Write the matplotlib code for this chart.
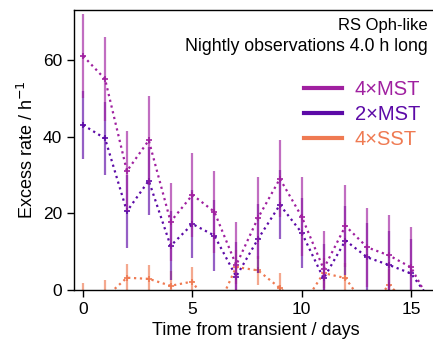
import matplotlib
matplotlib.use('Agg')
import matplotlib.pyplot as plt
from matplotlib.lines import Line2D
import numpy as np

plt.rc('font', family=['Liberation Sans', 'DejaVu Sans'], size=12)

# nights after the transient
days = np.arange(0, 17)

# excess rate per night and 1-sigma errors
mst4 = [61, 55, 31, 39, 17.8, 24.8, 20.4, 6.5, 18.8, 29, 19.1, 5.5, 16.7, 11.1, 9.0, 5.9, -4.5]
mst4_err = [11, 11, 10.5, 11.5, 10.2, 10.9, 10.7, 11.3, 10.6, 10, 10.3, 10, 10.7, 10.4, 10.6, 10.5, 10.5]
mst2 = [43, 39.5, 20.5, 28.5, 11.5, 17.2, 14.2, 3.5, 13.3, 22.2, 14.9, 3, 12.9, 8.5, 6.5, 4.3, -3.5]
mst2_err = [8.8, 9.6, 9.5, 8.9, 9, 8.9, 9.2, 9, 9, 9, 9.2, 9, 9, 9, 9, 9, 9]
sst4 = [-3, -2, 3.2, 2.9, 1.1, 2.2, -6.6, 6.0, 5.1, 0.5, -4.4, 4.4, 3.1, -5, 1.3, -4.5, -4]
sst4_err = [4.7, 4.5, 3.6, 3.6, 3.9, 3.7, 3.8, 4.5, 3.8, 3.8, 3.8, 3.9, 3.9, 3.8, 4.1, 3.8, 3.8]

series = [
    ('4×SST', sst4, sst4_err, '#ef7a52'),
    ('2×MST', mst2, mst2_err, '#5c0aa7'),
    ('4×MST', mst4, mst4_err, '#a020a0'),
]

fig = plt.figure(figsize=(4.33, 3.44), dpi=100)
ax = fig.add_axes([0.1709, 0.157, 0.839, 0.814])

for name, vals, errs, col in series:
    # last night sits at the cropped edge, only its line is seen
    ax.errorbar(days[:-1], vals[:-1], yerr=errs[:-1], fmt='none', ecolor=col,
                elinewidth=1.6, alpha=0.65, capsize=0)
    ax.plot(days, vals, ls=':', lw=1.6, color=col, marker='+', ms=4, mew=1.2)

ax.set_xlim(-0.42, 16.2)
ax.set_ylim(0, 73)
ax.set_xticks([0, 5, 10, 15])
ax.set_yticks([0, 20, 40, 60])
ax.tick_params(direction='out', length=5, width=1, labelsize=12.5)
for s in ax.spines.values():
    s.set_linewidth(1)
ax.set_xlabel('Time from transient / days', fontsize=13)
ax.set_ylabel(r'Excess rate / h$^{-1}$', fontsize=13)

fig.text(428 / 433, 1 - 30 / 344, 'RS Oph-like', ha='right', va='baseline', fontsize=12)
fig.text(428 / 433, 1 - 51 / 344, 'Nightly observations 4.0 h long', ha='right',
         va='baseline', fontsize=12.8)

handles = [Line2D([], [], color=c, lw=3) for _, _, _, c in series[::-1]]
labels = [n for n, _, _, _ in series[::-1]]
leg = fig.legend(handles, labels, loc='upper right',
                 bbox_to_anchor=(420 / 433, 1 - 80 / 344), frameon=False,
                 fontsize=14.5, handlelength=1.9, handletextpad=0.6,
                 labelspacing=0.3, borderpad=0, borderaxespad=0)
for t, (_, _, _, c) in zip(leg.get_texts(), series[::-1]):
    t.set_color(c)

fig.savefig('out.png', dpi=100)
